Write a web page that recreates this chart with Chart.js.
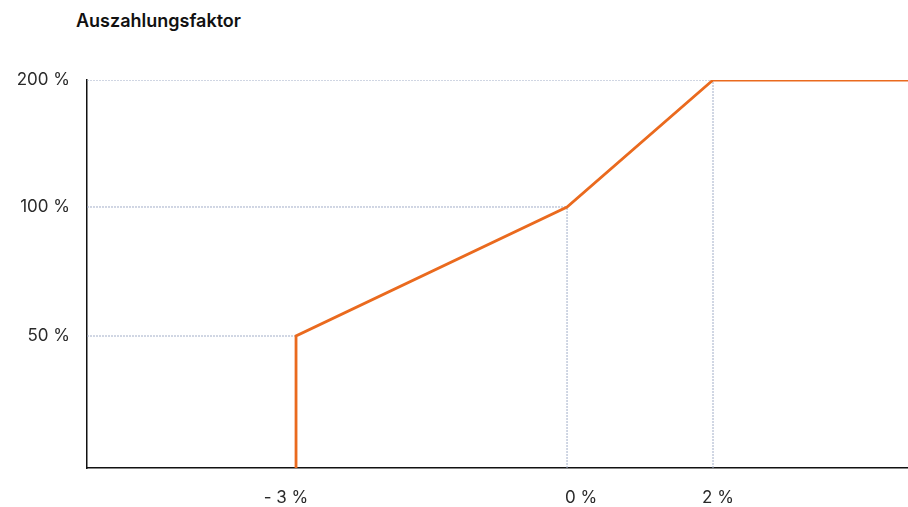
<!DOCTYPE html>
<html>
<head>
<meta charset="utf-8">
<script src="https://cdn.jsdelivr.net/npm/chart.js@4"></script>
<style>
  html, body { margin: 0; padding: 0; background: #fff; }
  #wrap { position: relative; width: 908px; height: 507px; }
  #title { position: absolute; left: 76px; top: 10px; font: 600 18px Inter, sans-serif; color: #111; }
  canvas { position: absolute; left: 0; top: 0; }
</style>
</head>
<body>
<div id="wrap">
  <div id="title">Auszahlungsfaktor</div>
  <canvas id="payoutChart" width="908" height="507"></canvas>
</div>
<script>
// payout curve, x = deviation in %, y = payout factor in %
const curveX = [-3, -3, 0, 2, 4];
const curveY = [0, 50, 100, 200, 200];

// tick labels
const xTickValues = [-3, 0, 2];
const yTickValues = [50, 100, 200];

// the axes are not linear: each axis is stretched between fixed breaks
const xBreaks = [-5, -3, 0, 2, 4];
const xStops = [0, 0.2546, 0.5847, 0.7625, 1];
const yBreaks = [0, 50, 100, 200];
const yStops = [0, 0.3402, 0.6727, 1];
// the x labels in the original sit a bit off their ticks
const xLabelShift = [-10, 14, 5];

function interp(v, from, to) {
  if (v <= from[0]) return to[0];
  for (let i = 1; i < from.length; i++) {
    if (v <= from[i]) {
      const t = (v - from[i - 1]) / (from[i] - from[i - 1]);
      return to[i - 1] + t * (to[i] - to[i - 1]);
    }
  }
  return to[to.length - 1];
}

// linear scale that maps values through the breaks above
class PiecewiseScale extends Chart.LinearScale {
  getPixelForValue(value) {
    const o = this.options;
    return this.getPixelForDecimal(interp(value, o.breaks, o.stops));
  }
  getValueForPixel(pixel) {
    const o = this.options;
    return interp(this.getDecimalForPixel(pixel), o.stops, o.breaks);
  }
  _computeLabelItems(chartArea) {
    const items = super._computeLabelItems(chartArea);
    const shift = this.options.labelShift;
    if (shift) {
      items.forEach((it, i) => {
        const tr = it.options.translation;
        it.options.translation = [tr[0] + (shift[i] || 0), tr[1]];
      });
    }
    return items;
  }
}
PiecewiseScale.id = "piecewise";
PiecewiseScale.defaults = Chart.LinearScale.defaults;
Chart.register(PiecewiseScale);

// dotted guide lines from every corner back to the axes
const guides = [];
for (let i = 0; i < curveX.length; i++) {
  const x = curveX[i], y = curveY[i];
  if (!yTickValues.includes(y) || guides.some(g => g.key === "h" + y)) continue;
  guides.push({ key: "h" + y, data: [{ x: xBreaks[0], y: y }, { x: x, y: y }] });
  if (xTickValues.includes(x) && x !== curveX[0]) {
    guides.push({ key: "v" + x, data: [{ x: x, y: 0 }, { x: x, y: y }] });
  }
}

const guideSets = guides.map(g => ({
  data: g.data,
  borderColor: "#a2aec8",
  borderWidth: 1,
  borderDash: [2, 1],
  pointRadius: 0,
  order: 2
}));

const ctx = document.getElementById("payoutChart").getContext("2d");
new Chart(ctx, {
  type: "line",
  data: {
    datasets: [
      {
        data: curveX.map((x, i) => ({ x: x, y: curveY[i] })),
        borderColor: "#ea6a1e",
        borderWidth: 2.8,
        pointRadius: 0,
        tension: 0,
        order: 1
      },
      ...guideSets
    ]
  },
  options: {
    responsive: false,
    animation: false,
    layout: { padding: { top: 80, right: 0, left: 0, bottom: 0 } },
    plugins: { legend: { display: false }, tooltip: { enabled: false } },
    scales: {
      x: {
        type: "piecewise",
        breaks: xBreaks,
        stops: xStops,
        labelShift: xLabelShift,
        min: xBreaks[0],
        max: xBreaks[xBreaks.length - 1],
        afterBuildTicks: s => { s.ticks = xTickValues.map(v => ({ value: v })); },
        afterFit: s => { s.height = 39; },
        grid: { display: false, drawTicks: false },
        border: { display: true, color: "#111", width: 1.5 },
        ticks: {
          padding: 20,
          color: "#2a2a2a",
          font: { family: "Inter", size: 17 },
          callback: v => (v < 0 ? "- " + Math.abs(v) : v) + " %"
        }
      },
      y: {
        type: "piecewise",
        breaks: yBreaks,
        stops: yStops,
        min: yBreaks[0],
        max: yBreaks[yBreaks.length - 1],
        afterBuildTicks: s => { s.ticks = yTickValues.map(v => ({ value: v })); },
        afterFit: s => { s.width = 87; },
        grid: { display: false, drawTicks: false },
        border: { display: true, color: "#111", width: 1.5 },
        ticks: {
          padding: 17,
          color: "#2a2a2a",
          font: { family: "Inter", size: 17 },
          callback: v => v + " %"
        }
      }
    }
  }
});
</script>
</body>
</html>
